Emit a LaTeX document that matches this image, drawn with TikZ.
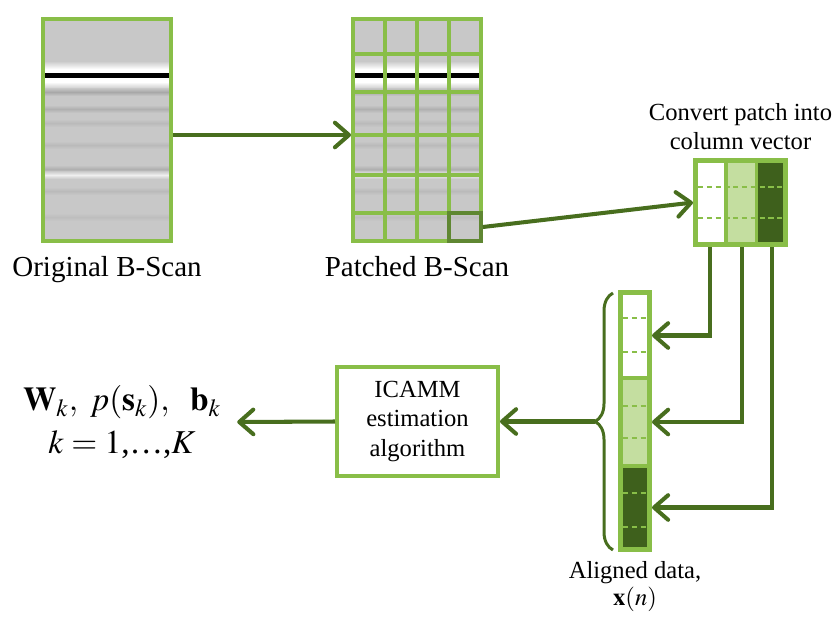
\documentclass[tikz,border=0pt]{standalone}
\usepackage{mathptmx}
\usepackage[no-math]{fontspec}
\setmainfont{Liberation Serif}
\usepackage{xcolor}
\usetikzlibrary{arrows.meta, positioning, calc, decorations.pathreplacing}

\definecolor{lgreen}{RGB}{137,190,72}
\definecolor{dgreen}{RGB}{72,110,30}
\definecolor{pgreen}{RGB}{196,222,160}
\definecolor{fgreen}{RGB}{62,96,28}
\definecolor{hgreen}{RGB}{95,135,50}
\definecolor{scangray}{RGB}{200,200,200}

% grey B-scan texture, top-left corner at (#1,#2)
\newcommand{\scantexture}[2]{%
  \begin{scope}[shift={(#1,#2)}]
    \fill[scangray] (0,0) rectangle (128,222);
    \shade[top color=scangray, bottom color=white] (0,42) rectangle (128,50);
    \fill[white] (0,50) rectangle (128,54);
    \fill[black] (0,54) rectangle (128,59);
    \fill[white] (0,59) rectangle (128,63);
    \shade[top color=white, bottom color=scangray] (0,63) rectangle (128,70);
    \foreach \yy/\cc in {73/black!16!scangray, 90/black!12!scangray, 104/black!7!scangray,
                         126/black!7!scangray, 150/black!12!scangray, 156/white!70!scangray,
                         172/black!7!scangray, 198/black!5!scangray}{
      \shade[top color=scangray, bottom color=\cc] (0,\yy-4) rectangle (128,\yy);
      \shade[top color=\cc, bottom color=scangray] (0,\yy) rectangle (128,\yy+4);
    }
  \end{scope}}

\begin{document}
\begin{tikzpicture}[x=0.02cm, y=-0.02cm,
    scanbox/.style={draw=lgreen, line width=2.3pt, minimum width=2.56cm, minimum height=4.44cm, inner sep=0pt},
    gridline/.style={draw=lgreen, line width=2pt},
    dashline/.style={draw=lgreen, line width=1pt, dash pattern=on 3pt off 2pt},
    flow/.style={draw=dgreen, line width=2.3pt, -{Straight Barb[length=8pt, width=14pt, round]}},
    capt/.style={font=\fontsize{16.5}{19}\selectfont, inner sep=1pt},
    smalltext/.style={font=\fontsize{14}{16.7}\selectfont, align=center, inner sep=1pt}
  ]
  \useasboundingbox (0,0) rectangle (838,616);

  % B-scans
  \scantexture{43}{19}
  \scantexture{353}{19}
  \node[scanbox] (orig) at (107,130) {};
  \node[scanbox] (patched) at (417,130) {};
  \begin{scope}[shift={(353,19)}]
    \foreach \xx in {32,64,96} \draw[gridline] (\xx,0) -- (\xx,222);
    \foreach \yy in {35,73,116,156,194} \draw[gridline] (0,\yy) -- (128,\yy);
  \end{scope}
  \node[draw=hgreen, line width=2pt, minimum width=0.64cm, minimum height=0.56cm, inner sep=0pt] (patch) at (465,227) {};

  \node[capt, below=0.22cm of orig] (origtxt) {Original B-Scan};
  \node[capt, below=0.22cm of patched] (patchedtxt) {Patched B-Scan};

  % column vector
  \node[draw=lgreen, fill=lgreen, line width=2.3pt, minimum width=1.82cm, minimum height=1.70cm, inner sep=0pt] (colvec) at (740.5,202.5) {};
  \fill[white] (698,163) rectangle (724,242);
  \fill[pgreen] (728,163) rectangle (755,242);
  \fill[fgreen] (758,163) rectangle (783,242);
  \foreach \yy in {187,218} \draw[dashline] (698,\yy) -- (783,\yy);
  \node[smalltext, above=0.12cm of colvec] (colvectxt) {Convert patch into\\column vector};

  % aligned data
  \node[draw=lgreen, fill=lgreen, line width=2.3pt, minimum width=0.6cm, minimum height=5.16cm, inner sep=0pt] (aligned) at (635,421) {};
  \node[fill=white, minimum width=0.48cm, minimum height=1.62cm, inner sep=0pt] (seg1) at (635,335.5) {};
  \node[fill=pgreen, minimum width=0.48cm, minimum height=1.68cm, inner sep=0pt] (seg2) at (635,422) {};
  \node[fill=fgreen, minimum width=0.48cm, minimum height=1.58cm, inner sep=0pt] (seg3) at (635,507.5) {};
  \foreach \yy in {318,352,406,438,493,527} \draw[dashline] (623,\yy) -- (647,\yy);
  \node[smalltext, font=\fontsize{14}{15.5}\selectfont, below=0.14cm of aligned] (alignedtxt) {Aligned data,\\$\mathbf{x}(n)$};

  % brace
  \draw[dgreen, line width=1.7pt, decorate, decoration={brace, amplitude=0.36cm}] (613,550) -- (613,293);
  \coordinate (bracetip) at (595,421.5);

  % ICAMM
  \node[draw=lgreen, line width=2.3pt, minimum width=3.22cm, minimum height=2.18cm, smalltext, inner sep=0pt] (icamm) at (417.5,421.5) {ICAMM\\estimation\\algorithm};
  \node[font=\fontsize{19}{24}\selectfont, align=center, inner xsep=0.32cm] (params) at (122,422)
    {$\mathbf{W}_k,\ p(\mathbf{s}_k),\ \ \mathbf{b}_k$\\$k = 1$,\ldots,$K$};

  % Connectors
  \draw[flow] ([yshift=-0.1cm]orig.east) -- ([yshift=-0.1cm]patched.west);
  \draw[flow] (patch.east) -- (colvec.west);
  \coordinate (c1) at (710,247);
  \coordinate (c2) at (742,247);
  \coordinate (c3) at (772,247);
  \draw[flow] (c1) |- (aligned.east |- seg1);
  \draw[flow] (c2) |- (aligned.east |- seg2);
  \draw[flow] (c3) |- (aligned.east |- seg3);
  \draw[flow] (bracetip) -- (icamm.east);
  \draw[flow] (icamm.west) -- (params.east);
\end{tikzpicture}
\end{document}
